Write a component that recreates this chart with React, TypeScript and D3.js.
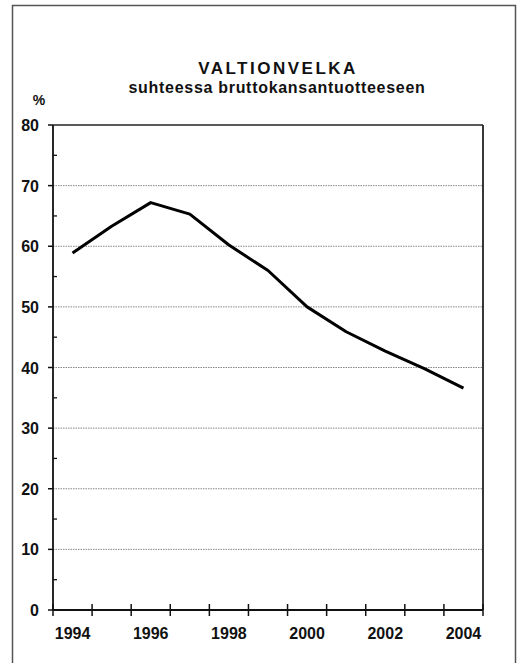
import React from "react";
import * as d3 from "d3";

const years = [1994, 1995, 1996, 1997, 1998, 1999, 2000, 2001, 2002, 2003, 2004];
const debtPct = [58.9, 63.3, 67.2, 65.3, 60.2, 56.0, 50.0, 45.9, 42.7, 39.8, 36.6];
const yTicks = [0, 10, 20, 30, 40, 50, 60, 70, 80];
const yMinorTicks = [5, 15, 25, 35, 45, 55, 65, 75];
const xLabelYears = [1994, 1996, 1998, 2000, 2002, 2004];
const titleText = "VALTIONVELKA";
const subtitleText = "suhteessa bruttokansantuotteeseen";
const unitText = "%";

export default function App() {
  const W = 518, H = 663;
  const left = 53, right = 483, top = 125, bottom = 610;
  const x = d3.scaleLinear().domain([years[0] - 0.5, years[years.length - 1] + 0.5]).range([left, right]);
  const y = d3.scaleLinear().domain([0, 80]).range([bottom, top]);
  const xBoundaries = d3.range(years[0] - 0.5, years[years.length - 1] + 1, 1);
  const line = d3.line<number>().x((_, i) => x(years[i])).y((d) => y(d));
  const font = "'Liberation Sans', Arial, Helvetica, sans-serif";
  return (
    <svg width={W} height={H} style={{ position: "absolute", left: 0, top: 0, background: "#fff" }} fontFamily={font}>
      {/* outer frame */}
      <path d={`M12.5,${H} V5.5 H515.5 V${H}`} fill="none" stroke="#555" strokeWidth={1.5} />
      {/* title */}
      <text x={278} y={74} textAnchor="middle" fontSize={17} fontWeight="bold" letterSpacing={2.5} fill="#111">{titleText}</text>
      <text x={277} y={93} textAnchor="middle" fontSize={16} fontWeight="bold" letterSpacing={0.7} fill="#111">{subtitleText}</text>
      <text x={39} y={105} textAnchor="middle" fontSize={14} fontWeight="bold" fill="#111">{unitText}</text>
      {/* grid */}
      {yTicks.filter((t) => t > 0 && t < 80).map((t) => (
        <line key={"g" + t} x1={left} x2={right} y1={y(t)} y2={y(t)} stroke="#888" strokeWidth={1} strokeDasharray="1.5,1" />
      ))}
      {/* frame of plot */}
      <line x1={left} x2={right} y1={y(80)} y2={y(80)} stroke="#222" strokeWidth={1.5} />
      <line x1={right} x2={right} y1={y(80)} y2={y(0)} stroke="#222" strokeWidth={1.8} />
      <line x1={left} x2={left} y1={y(80)} y2={y(0)} stroke="#111" strokeWidth={1.8} />
      <line x1={left} x2={right} y1={y(0)} y2={y(0)} stroke="#111" strokeWidth={1.8} />
      {/* y ticks */}
      {yTicks.map((t) => (
        <g key={"y" + t}>
          <line x1={left - 5} x2={left} y1={y(t)} y2={y(t)} stroke="#111" strokeWidth={1.5} />
          <text x={39} y={y(t) + 6} textAnchor="end" fontSize={16} fontWeight="bold" fill="#111">{t}</text>
        </g>
      ))}
      {yMinorTicks.map((t) => (
        <line key={"m" + t} x1={left} x2={left + 4} y1={y(t)} y2={y(t)} stroke="#111" strokeWidth={1.3} />
      ))}
      {/* x ticks */}
      {xBoundaries.map((b) => (
        <line key={"x" + b} x1={x(b)} x2={x(b)} y1={y(0) - 6} y2={y(0) + 6} stroke="#111" strokeWidth={1.5} />
      ))}
      {xLabelYears.map((yr) => (
        <text key={"l" + yr} x={x(yr)} y={639} textAnchor="middle" fontSize={16} fontWeight="bold" fill="#111">{yr}</text>
      ))}
      {/* data line */}
      <path d={line(debtPct) || ""} fill="none" stroke="#000" strokeWidth={3} strokeLinejoin="round" />
    </svg>
  );
}
